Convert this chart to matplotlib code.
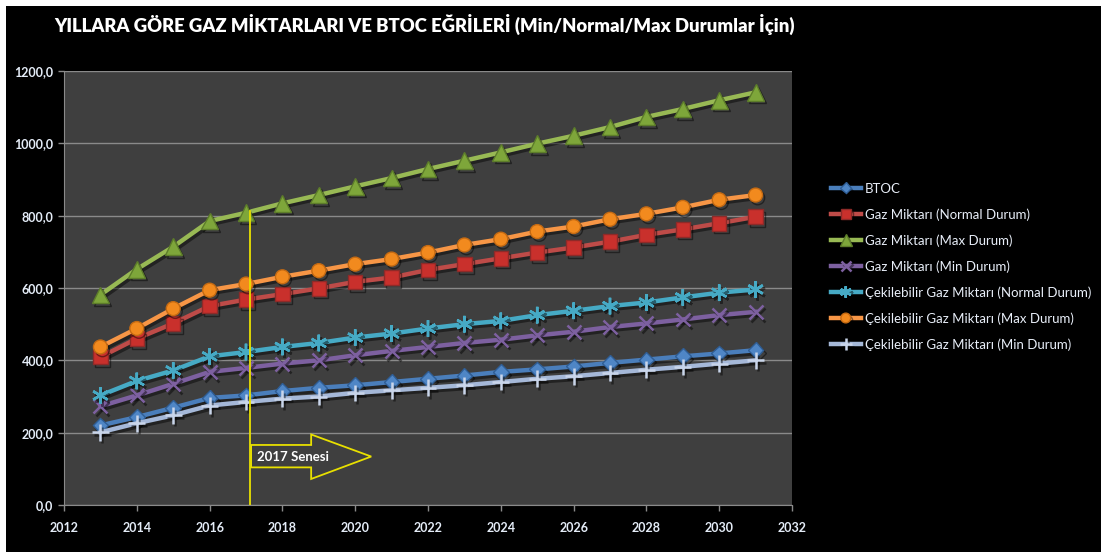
import matplotlib
matplotlib.use("Agg")
import matplotlib.pyplot as plt
from matplotlib.patches import Rectangle, Polygon
from matplotlib.ticker import FuncFormatter, MultipleLocator
import matplotlib.patheffects as pe

# ---- data ----
years = list(range(2013, 2032))
btoc = [220, 243, 269, 296, 303, 315, 324, 331, 340, 349, 358, 368, 375, 383, 393, 402, 411, 419, 428]
gaz_normal = [409, 460, 502, 550, 568, 583, 599, 617, 629, 650, 666, 682, 698, 712, 728, 747, 762, 779, 797]
gaz_max = [581, 652, 714, 785, 808, 834, 857, 881, 904, 929, 952, 975, 999, 1021, 1045, 1073, 1095, 1119, 1141]
gaz_min = [273, 303, 335, 368, 379, 391, 400, 414, 426, 437, 448, 457, 469, 479, 492, 502, 513, 525, 534]
cek_normal = [303, 343, 372, 411, 423, 437, 448, 463, 474, 488, 500, 509, 525, 537, 550, 560, 574, 587, 596]
cek_max = [437, 488, 543, 594, 611, 631, 648, 666, 680, 698, 719, 735, 756, 770, 790, 805, 823, 844, 857]
cek_min = [201, 226, 248, 275, 285, 294, 300, 310, 317, 324, 331, 340, 349, 356, 365, 374, 382, 391, 400]

labels = [
    "BTOC",
    "Gaz Miktarı (Normal Durum)",
    "Gaz Miktarı (Max Durum)",
    "Gaz Miktarı (Min Durum)",
    "Çekilebilir Gaz Miktarı (Normal Durum)",
    "Çekilebilir Gaz Miktarı (Max Durum)",
    "Çekilebilir Gaz Miktarı (Min Durum)",
]
title = "YILLARA GÖRE GAZ MİKTARLARI VE BTOC EĞRİLERİ (Min/Normal/Max Durumlar İçin)"
marker_year = 2017

plt.rcParams['font.family'] = ['Lato', 'DejaVu Sans']

W, H = 1101, 552
fig = plt.figure(figsize=(W / 100, H / 100), dpi=100, facecolor='white')
fig.patches.append(Rectangle((6 / W, 0), 1, (H - 6) / H, transform=fig.transFigure,
                             facecolor='black', edgecolor='none', zorder=-10))

ax = fig.add_axes([64 / W, (H - 505) / H, 728 / W, 434 / H])
ax.set_facecolor('#3f3f3f')

styles = [
    dict(color='#4a7ebb', marker='D', ms=8, mfc='#4f86c6', mec='#2f5e96'),
    dict(color='#be4b48', marker='s', ms=10.5, mfc='#c9302c', mec='#8e2a28'),
    dict(color='#98b954', marker='^', ms=12, mfc='#7ea63a', mec='#5d7d2a'),
    dict(color='#7d60a0', marker='x', ms=10, mfc='#7d60a0', mec='#7d60a0'),
    dict(color='#46aac5', marker=(6, 2, 0), ms=12, mfc='#46aac5', mec='#46aac5'),
    dict(color='#f79646', marker='o', ms=10, mfc='#f28a1e', mec='#c56a12'),
    dict(color='#a5b8d8', marker='+', ms=12, mfc='#a5b8d8', mec='#c9d5ea'),
]
series = [btoc, gaz_normal, gaz_max, gaz_min, cek_normal, cek_max, cek_min]

shadow = [pe.SimpleLineShadow(offset=(1.5, -2), shadow_color='black', alpha=0.45), pe.Normal()]
for vals, lab, st in zip(series, labels, styles):
    mew = 1.8 if st['marker'] in ('x', '+', (6, 2, 0)) else 1.0
    ax.plot(years, vals, label=lab, lw=3.2, color=st['color'], marker=st['marker'],
            markersize=st['ms'], markerfacecolor=st['mfc'], markeredgecolor=st['mec'],
            markeredgewidth=mew, path_effects=shadow, zorder=3)

ax.set_xlim(2012, 2032)
ax.set_ylim(0, 1200)
ax.xaxis.set_major_locator(MultipleLocator(2))
ax.yaxis.set_major_locator(MultipleLocator(200))
ax.yaxis.set_major_formatter(FuncFormatter(lambda v, p: f"{v:.1f}".replace('.', ',')))
ax.grid(axis='y', color='#8a8a8a', lw=1)
ax.set_axisbelow(True)
for s in ('top', 'right'):
    ax.spines[s].set_visible(False)
for s in ('left', 'bottom'):
    ax.spines[s].set_color('#8a8a8a')
ax.tick_params(colors='#8a8a8a', direction='out', length=4, width=1,
               labelcolor='#e4ecf7', labelsize=9)
ax.tick_params(axis='x', pad=8)
for t in ax.get_xticklabels() + ax.get_yticklabels():
    t.set_fontweight('bold')

# 2017 reference line and arrow callout
ax.plot([marker_year + 0.12] * 2, [0, 812], color='#e8e000', lw=1.3, zorder=4)
arrow = Polygon([(2017.14, 166), (2018.79, 166), (2018.79, 195), (2020.44, 134),
                 (2018.79, 72), (2018.79, 104), (2017.14, 104)],
                closed=True, fill=False, edgecolor='#e8e000', lw=1.3, zorder=4)
ax.add_patch(arrow)
ax.text(2017.3, 134, "2017 Senesi", color='white', fontsize=9.5, fontweight='bold',
        va='center', ha='left', zorder=5)

fig.text(425 / W, 1 - 24 / H, title, color='white', fontsize=13.3, fontweight='heavy',
         ha='center', va='center')

leg = ax.legend(loc='upper left', bbox_to_anchor=(824 / W, 1 - 176 / H),
                bbox_transform=fig.transFigure, frameon=False, fontsize=9.5,
                handlelength=2.3, handletextpad=0.3, labelspacing=1.02,
                markerscale=0.7, borderpad=0)
for t in leg.get_texts():
    t.set_color('#e8eef8')

fig.savefig('out.png', dpi=100, facecolor=fig.get_facecolor())
